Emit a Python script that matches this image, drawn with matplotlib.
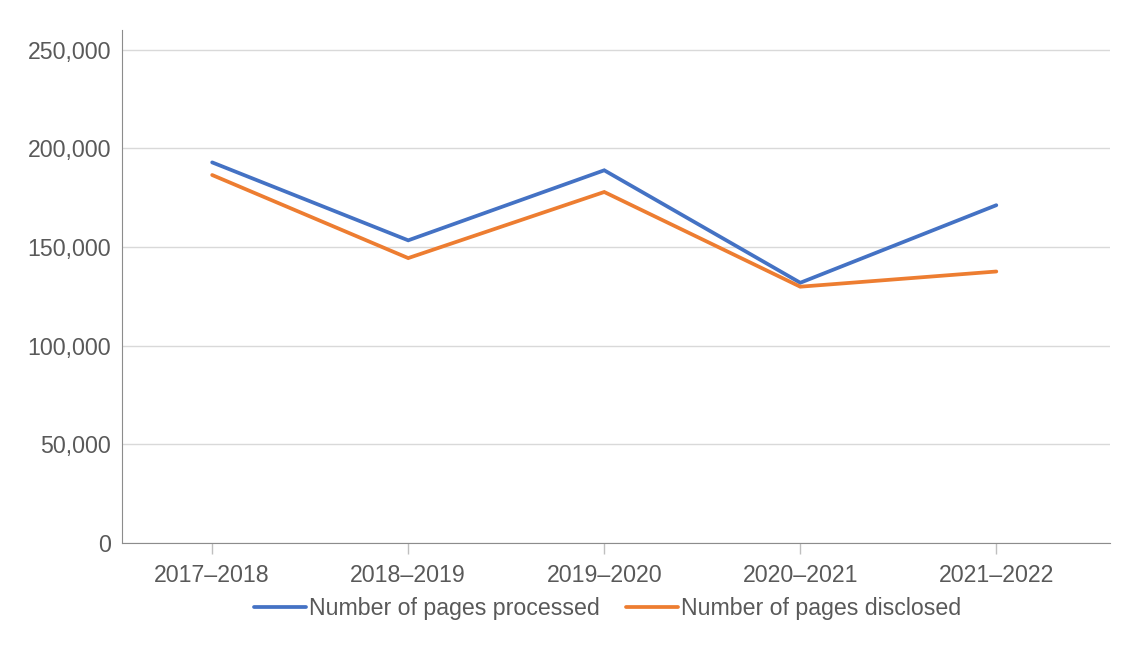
import matplotlib
matplotlib.use("Agg")
import matplotlib.pyplot as plt
from matplotlib.ticker import FuncFormatter

# data
years = ["2017\u20132018", "2018\u20132019", "2019\u20132020", "2020\u20132021", "2021\u20132022"]
pages_processed = [192900, 153400, 188900, 131900, 171200]
pages_disclosed = [186500, 144400, 177900, 129900, 137600]

plt.rcParams['font.family'] = ['Liberation Sans', 'DejaVu Sans']

fig = plt.figure(figsize=(11.4, 6.5), dpi=100)
ax = fig.add_axes([122 / 1140, 1 - 543 / 650, (1110 - 122) / 1140, (543 - 30) / 650])

x = list(range(len(years)))
ax.plot(x, pages_processed, color="#4472C4", linewidth=2.7, label="Number of pages processed",
        solid_capstyle="round", solid_joinstyle="miter")
ax.plot(x, pages_disclosed, color="#ED7D31", linewidth=2.7, label="Number of pages disclosed",
        solid_capstyle="round", solid_joinstyle="miter")

ax.set_ylim(0, 260000)
ax.set_yticks(range(0, 250001, 50000))
ax.yaxis.set_major_formatter(FuncFormatter(lambda v, p: f"{int(v):,}"))
ax.set_xlim(-0.46, 4.58)
ax.set_xticks(x)
ax.set_xticklabels(years)

# gridlines and axes styling
ax.grid(axis="y", color="#d9d9d9", linewidth=1)
ax.set_axisbelow(True)
for s in ["top", "right"]:
    ax.spines[s].set_visible(False)
ax.spines["left"].set_color("#8c8c8c")
ax.spines["bottom"].set_color("#8c8c8c")
ax.tick_params(axis="y", length=0, pad=8, labelsize=16.7, labelcolor="#595959")
ax.tick_params(axis="x", length=8, width=1, color="#bfbfbf", pad=7, labelsize=16.7, labelcolor="#595959")

leg = fig.legend(loc="center", bbox_to_anchor=(0.533, 1 - 609 / 650), ncol=2, frameon=False,
                 fontsize=16.7, handlelength=2.25, handletextpad=0.15, columnspacing=1.1)
for t in leg.get_texts():
    t.set_color("#595959")

fig.savefig("out.png", dpi=100)
